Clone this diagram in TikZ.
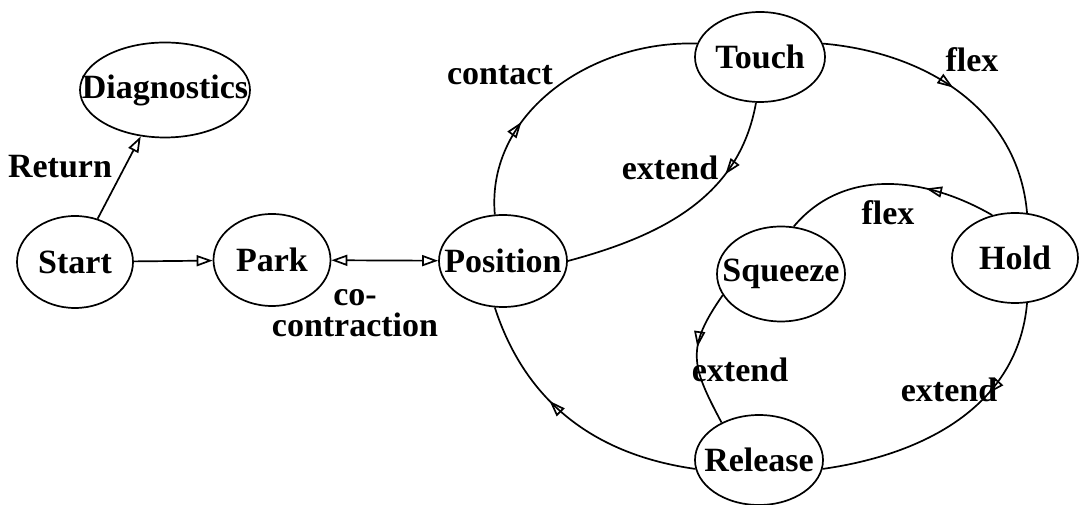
\documentclass[tikz,border=0pt]{standalone}
\usepackage{fontspec}
\setmainfont{Liberation Serif}
\usepackage{tikz}
\usetikzlibrary{shapes}
\usetikzlibrary{arrows.meta}
\usetikzlibrary{decorations.markings}
\newcommand{\lbl}{\bfseries\fontsize{34}{31}\selectfont}
\newcommand{\nm}[1]{\makebox[0pt]{#1}}

\begin{document}
\begin{tikzpicture}[x=1pt,y=1pt,line width=1.7pt,
    >={Triangle[open,length=16pt,width=11pt]},
    state/.style={draw,ellipse,inner sep=0pt,minimum width=128pt,minimum height=92pt,font=\lbl},
    txt/.style={font=\lbl,inner sep=0pt},
    midarrow/.style={postaction={decorate},decoration={markings,mark=at position #1 with {\arrow{>}}}}]
    \useasboundingbox (0,0) rectangle (1080,505);
    %states
    \node[state,minimum width=170pt,minimum height=95pt] (diag) at (165,415) {\nm{Diagnostics}};
    \node[state,minimum width=116pt] (start) at (75,243) {\nm{Start}};
    \node[state,minimum width=117pt] (park) at (272,245) {\nm{Park}};
    \node[state] (position) at (503,244) {\nm{Position}};
    \node[state,minimum width=130pt,minimum height=90pt] (touch) at (760,448) {\nm{Touch}};
    \node[state,minimum width=126pt,minimum height=90pt] (hold) at (1015,247) {\nm{Hold}};
    \node[state,minimum height=95pt] (squeeze) at (781,231) {\nm{Squeeze}};
    \node[state,minimum height=90pt] (release) at (759,45) {\nm{Release}};
    %transitions
    \draw[->] (start) -- (diag);
    \node[txt] (lreturn) at (60,338) {Return};
    \draw[->] (start) -- (park);
    \draw[<->] (park) -- (position);
    \node[txt,align=center] (lcoco) at (355,192) {co-\\contraction};
    \draw[midarrow=0.33] (position.100) to[out=95,in=178] (touch.168);
    \node[txt] (lcontact) at (500,430) {contact};
    \draw[midarrow=0.3] (touch.-95) to[out=-100,in=15] (position.east);
    \node[txt] (lext1) at (670,337) {extend};
    \draw[midarrow=0.48] (touch.12) to[out=-5,in=95] (hold.75);
    \node[txt] (lflex1) at (972,445) {flex};
    \draw[midarrow=0.33] (hold.118) to[out=150,in=50] (squeeze.75);
    \node[txt] (lflex2) at (888,292) {flex};
    \draw[midarrow=0.42] (squeeze.200) to[out=235,in=118,looseness=1.3] (release.135);
    \node[txt] (lext2) at (740,135) {extend};
    \draw[midarrow=0.35] (hold.-75) to[out=-95,in=8] (release.-8);
    \node[txt] (lext3) at (949,115) {extend};
    \draw[midarrow=0.6] (release.188) to[out=172,in=-72] (position.-100);
\end{tikzpicture}
\end{document}
